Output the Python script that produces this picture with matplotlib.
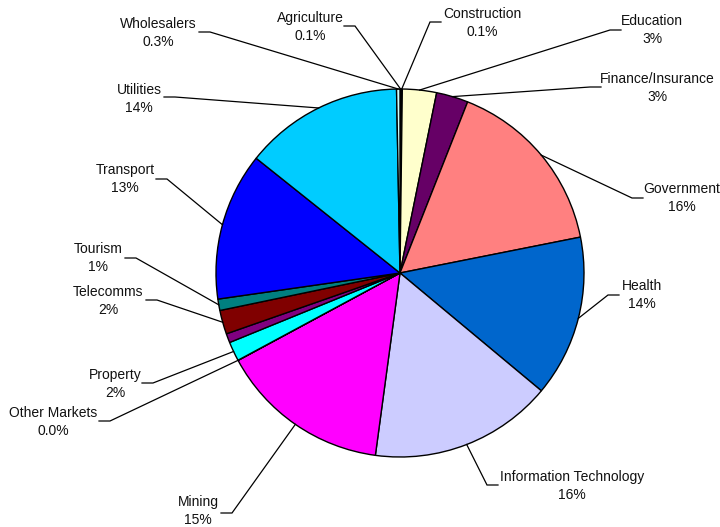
import numpy as np
import matplotlib
matplotlib.use("Agg")
import matplotlib.pyplot as plt

# Share of activity by sector, slices run clockwise from 12 o'clock
sectors = ["Agriculture", "Construction", "Education", "Finance/Insurance",
           "Government", "Health", "Information Technology", "Mining",
           "Other Markets", "Property", "Retail", "Telecomms", "Tourism",
           "Transport", "Utilities", "Wholesalers"]
shares = [0.1, 0.1, 3.0, 2.8, 15.9, 14.2, 16.1, 15.0,
          0.02, 1.7, 0.8, 2.1, 1.0, 13.0, 14.0, 0.3]
decimals = [1, 1, 0, 0, 0, 0, 0, 0, 1, 0, None, 0, 0, 0, 0, 1]
colors = ["#9999FF", "#993366", "#FFFFCC", "#660066", "#FF8080", "#0066CC",
          "#CCCCFF", "#FF00FF", "#FFFF00", "#00FFFF", "#800080", "#800000",
          "#008080", "#0000FF", "#00CCFF", "#CCFFFF"]

# label layout in pixels: text centre, elbow of the leader line
text_px = [(310, 27), (482, 23), (652, 30), (657, 88), (682, 198), (642, 295),
           (572, 486), (198, 511), (53, 422), (115, 384), None, (108, 301),
           (98, 258), (125, 179), (139, 99), (158, 33)]
elbow_px = [(355, 26), (430, 22), (610, 30), (590, 87), (632, 198), (608, 295),
            (487, 485), (232, 513), (110, 421), (153, 383), None, (157, 300),
            (136, 258), (167, 179), (175, 97), (210, 32)]

CX, CY, R = 400, 273, 184
W, H = 720, 527


def to_data(p):
    return (p[0] - CX) / R, (CY - p[1]) / R


plt.rcParams['font.family'] = ['Liberation Sans', 'DejaVu Sans']

fig = plt.figure(figsize=(W / 100, H / 100), dpi=100)
ax = fig.add_axes([0, 0, 1, 1])
wedges, _ = ax.pie(shares, colors=colors, startangle=90, counterclock=False,
                   radius=1, wedgeprops=dict(edgecolor="black", linewidth=1.0))
ax.set_xlim(-CX / R, (W - CX) / R)
ax.set_ylim((CY - H) / R, CY / R)
ax.set_aspect("equal")
ax.axis("off")

total = sum(shares)
stub = 11 / R
for w, name, val, dec, tp, ep in zip(wedges, sectors, shares, decimals,
                                     text_px, elbow_px):
    if tp is None:
        continue
    pct = 100 * val / total
    label = f"{name}\n{pct:.{dec}f}%"
    tx, ty = to_data(tp)
    ex, ey = to_data(ep)
    mid = np.deg2rad((w.theta1 + w.theta2) / 2)
    px, py = np.cos(mid), np.sin(mid)
    sx = ex + stub if tx > ex else ex - stub
    ax.plot([px, ex, sx], [py, ey, ey], color="black", lw=0.9,
            solid_joinstyle="miter")
    ax.text(tx, ty, label, ha="center", va="center", fontsize=10,
            linespacing=1.3, color="#111111")

fig.savefig("out.png", dpi=100, facecolor="white")
